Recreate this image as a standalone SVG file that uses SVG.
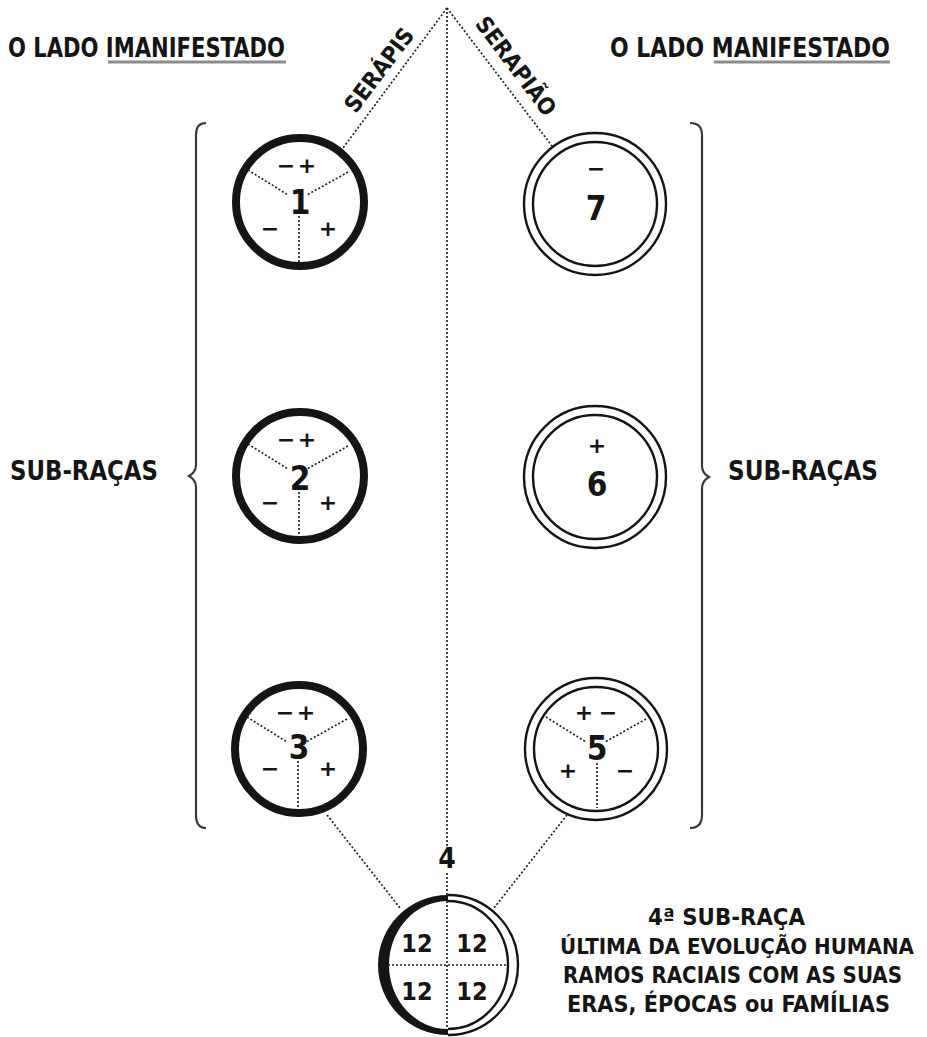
<svg xmlns="http://www.w3.org/2000/svg" width="927" height="1037" viewBox="0 0 927 1037">
<defs>
<style>
.t{font-family:"DejaVu Sans Condensed","DejaVu Sans",sans-serif;font-weight:bold;fill:#151515}
.d{font-family:"DejaVu Sans Condensed","DejaVu Sans",sans-serif;font-weight:bold;font-size:33px;fill:#151515;text-anchor:middle}
.s{font-family:"DejaVu Sans",sans-serif;font-weight:bold;font-size:22px;fill:#151515;text-anchor:middle}
.dot{stroke:#222;stroke-width:1.7;stroke-dasharray:2 2;fill:none}
.thick{fill:none;stroke:#151515;stroke-width:8}
.thin{fill:none;stroke:#151515;stroke-width:2.4}
.ul{stroke:#8c8c8c;stroke-width:3}
.br{fill:none;stroke:#3a3a3a;stroke-width:2.2}
</style>
</defs>
<rect width="927" height="1037" fill="#fff"/>

<g id="titles">
<text class="t" x="8" y="57" font-size="27" textLength="277" lengthAdjust="spacingAndGlyphs">O LADO IMANIFESTADO</text>
<line class="ul" x1="108" y1="62" x2="286" y2="62"/>
<text class="t" x="610" y="57" font-size="27" textLength="280" lengthAdjust="spacingAndGlyphs">O LADO MANIFESTADO</text>
<line class="ul" x1="714" y1="62" x2="890" y2="62"/>
</g>

<g id="connectors">
<line class="dot" x1="447" y1="8" x2="447" y2="846"/>
<line class="dot" x1="447" y1="873" x2="447" y2="1032"/>
<line class="dot" x1="447" y1="8" x2="343" y2="148"/>
<line class="dot" x1="447" y1="8" x2="552" y2="146"/>
<line class="dot" x1="327" y1="815" x2="400" y2="908"/>
<line class="dot" x1="567" y1="815" x2="494" y2="908"/>
</g>

<g id="path-labels">
<text class="t" font-size="23" text-anchor="middle" transform="translate(379,70) rotate(-53)" y="8">SERÁPIS</text>
<text class="t" font-size="23" text-anchor="middle" transform="translate(516,66) rotate(53)" y="8">SERAPIÃO</text>
</g>

<g id="brackets">
<path class="br" d="M206 123 Q196 123 196 135 L196 465 Q196 472 189 476 Q196 480 196 487 L196 815 Q196 828 206 828"/>
<path class="br" d="M690 123 Q702 123 702 135 L702 466 Q702 473 709 477 Q702 481 702 488 L702 815 Q702 828 690 828"/>
<text class="t" x="10" y="480" font-size="27" textLength="148" lengthAdjust="spacingAndGlyphs">SUB-RAÇAS</text>
<text class="t" x="728" y="480" font-size="27" textLength="150" lengthAdjust="spacingAndGlyphs">SUB-RAÇAS</text>
</g>

<g id="node1">
<circle class="thick" cx="300" cy="202" r="64"/>
<line class="dot" x1="248" y1="170" x2="288" y2="195"/>
<line class="dot" x1="348" y1="172" x2="307" y2="195"/>
<line class="dot" x1="299" y1="216" x2="299" y2="262"/>
<text class="d" x="300" y="214">1</text>
<text class="s" x="286" y="173">−</text><text class="s" x="307" y="173">+</text>
<text class="s" x="270" y="236">−</text><text class="s" x="328" y="236">+</text>
</g>

<g id="node2">
<circle class="thick" cx="300" cy="476" r="64"/>
<line class="dot" x1="248" y1="444" x2="288" y2="469"/>
<line class="dot" x1="348" y1="446" x2="307" y2="469"/>
<line class="dot" x1="299" y1="492" x2="299" y2="537"/>
<text class="d" x="300" y="490">2</text>
<text class="s" x="286" y="447">−</text><text class="s" x="307" y="447">+</text>
<text class="s" x="270" y="510">−</text><text class="s" x="328" y="510">+</text>
</g>

<g id="node3">
<circle class="thick" cx="299" cy="749" r="64"/>
<line class="dot" x1="247" y1="717" x2="287" y2="742"/>
<line class="dot" x1="347" y1="719" x2="306" y2="742"/>
<line class="dot" x1="298" y1="761" x2="298" y2="808"/>
<text class="d" x="299" y="759">3</text>
<text class="s" x="285" y="720">−</text><text class="s" x="306" y="720">+</text>
<text class="s" x="270" y="776">−</text><text class="s" x="328" y="776">+</text>
</g>

<g id="node7">
<circle class="thin" cx="595" cy="204" r="71"/>
<circle class="thin" cx="595" cy="204" r="62"/>
<text class="d" x="596" y="220">7</text>
<text class="s" x="596" y="176">−</text>
</g>

<g id="node6">
<circle class="thin" cx="595" cy="477" r="71"/>
<circle class="thin" cx="595" cy="477" r="62"/>
<text class="d" x="597" y="496">6</text>
<text class="s" x="597" y="453">+</text>
</g>

<g id="node5">
<circle class="thin" cx="596" cy="749" r="71"/>
<circle class="thin" cx="596" cy="749" r="62"/>
<line class="dot" x1="546" y1="717" x2="586" y2="742"/>
<line class="dot" x1="646" y1="719" x2="605" y2="742"/>
<line class="dot" x1="597" y1="763" x2="597" y2="808"/>
<text class="d" x="597" y="760">5</text>
<text class="s" x="584" y="720">+</text><text class="s" x="608" y="720">−</text>
<text class="s" x="568" y="778">+</text><text class="s" x="625" y="778">−</text>
</g>

<g id="node4">
<text class="t" x="447" y="868" font-size="28" text-anchor="middle">4</text>
<path d="M448 895 A70 70 0 0 0 448 1035 L448 1029 A59 64 0 0 1 448 901 Z" fill="#151515"/>
<path class="thin" d="M448 895 A70 70 0 0 1 448 1035"/>
<path class="thin" d="M448 901 A60 64 0 0 1 448 1029"/>
<line class="dot" x1="388" y1="965" x2="508" y2="965"/>
<text class="t" x="417" y="952" font-size="25" text-anchor="middle">12</text>
<text class="t" x="472" y="952" font-size="25" text-anchor="middle">12</text>
<text class="t" x="417" y="1000" font-size="25" text-anchor="middle">12</text>
<text class="t" x="472" y="1000" font-size="25" text-anchor="middle">12</text>
</g>

<g id="caption">
<text class="t" x="648" y="925" font-size="23" textLength="157" lengthAdjust="spacingAndGlyphs">4ª SUB-RAÇA</text>
<text class="t" x="560" y="954" font-size="22" textLength="354" lengthAdjust="spacingAndGlyphs">ÚLTIMA DA EVOLUÇÃO HUMANA</text>
<text class="t" x="563" y="983" font-size="23" textLength="339" lengthAdjust="spacingAndGlyphs">RAMOS RACIAIS COM AS SUAS</text>
<text class="t" x="567" y="1012" font-size="23" textLength="323" lengthAdjust="spacingAndGlyphs">ERAS, ÉPOCAS ou FAMÍLIAS</text>
</g>
</svg>
